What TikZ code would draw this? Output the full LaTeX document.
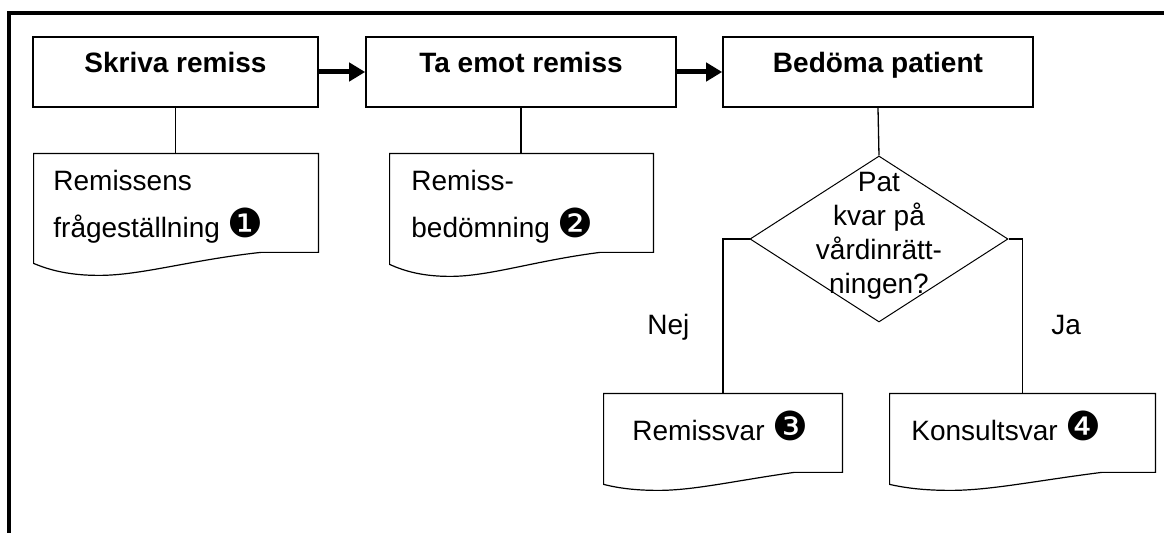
\documentclass[tikz,border=0pt]{standalone}
\usepackage{fontspec}
\setmainfont{Liberation Sans}
\newfontfamily\dv{DejaVu Sans}
\usetikzlibrary{arrows.meta,calc,shapes.geometric}
\newcommand\cnum[1]{{\dv\fontsize{20}{20}\selectfont #1}}
\tikzset{
 procbox/.style={draw, line width=0.8pt, minimum height=35pt, inner sep=0pt,
   font=\bfseries\fontsize{14}{17}\selectfont, text height=8pt, text depth=7pt},
 docnode/.style={inner sep=0pt},
 docline/.style={line width=0.6pt, line join=miter},
 conn/.style={line width=0.65pt},
 flowarrow/.style={line width=2.5pt, -{Triangle[length=8pt,width=9pt]}},
 txt/.style={inner sep=0pt, font=\fontsize{14}{23.5}\selectfont, align=left},
 frametop/.style={line width=1.6pt},
 frameleft/.style={line width=2pt},
 decision/.style={diamond, draw, line width=0.5pt, minimum width=129pt, minimum height=83pt, inner sep=0pt},
}
\newcommand\docwave[4]{% node, width(px), rise(px), dip(px)
 \draw[docline] (#1.north west) -- (#1.north east) -- ($(#1.south east)+(0,-#3)$)
   -- ($(#1.south west)+(0.8*#2,-#3)$)
   .. controls ($(#1.south west)+(0.55*#2,-0.3*#3)$) and ($(#1.south west)+(0.38*#2,#4)$) .. ($(#1.south west)+(0.23*#2,#4)$)
   .. controls ($(#1.south west)+(0.13*#2,#4)$) and ($(#1.south west)+(0.06*#2,0.6*#4)$) .. (#1.south west) -- cycle;}
\begin{document}
\begin{tikzpicture}[x=0.5pt,y=-0.5pt]
\useasboundingbox (0,0) rectangle (1164,533);
% frame
\coordinate (fa) at (7,13);
\coordinate (fb) at (1164,13);
\coordinate (fc) at (9,12);
\coordinate (fd) at (9,533);
\draw[frametop] (fa) -- (fb);
\draw[frameleft] (fc) -- (fd);
% process boxes
\node[procbox, minimum width=142.5pt] (b1) at (175.5,72) {Skriva remiss};
\node[procbox, minimum width=155pt] (b2) at (521,72) {Ta emot remiss};
\node[procbox, minimum width=155pt] (b3) at (878,72) {Bedöma patient};
\draw[flowarrow] (b1.east) -- (b2.west);
\draw[flowarrow] (b2.east) -- (b3.west);
% documents
\node[docnode, minimum width=142pt, minimum height=54.5pt] (d1) at (176,208.5) {};
\docwave{d1}{284}{11}{12}
\node[docnode, minimum width=131.5pt, minimum height=55pt] (d2) at (521.5,209) {};
\docwave{d2}{263}{12}{12}
\node[docnode, minimum width=119pt, minimum height=45pt] (d3) at (723,439) {};
\docwave{d3}{238}{12}{6}
\node[docnode, minimum width=132.5pt, minimum height=45pt] (d4) at (1022.5,439) {};
\docwave{d4}{265}{12}{6}
% document texts (base anchor = baseline of the last line)
\node[txt, anchor=base west] (t1) at (53,238) {Remissens\\frågeställning \cnum{❶}};
\node[txt, anchor=base west] (t2) at (411,238) {Remiss-\\bedömning \cnum{❷}};
\node[txt, anchor=base west] (t3) at (632,441) {Remissvar \cnum{❸}};
\node[txt, anchor=base west] (t4) at (911,441) {Konsultsvar \cnum{❹}};
% decision
\node[decision] (q) at (879,239) {};
\node[txt, align=center, font=\fontsize{14}{17}\selectfont] (qt) at (879,236) {Pat\\kvar på\\vårdinrätt-\\ningen?};
% connectors
\draw[conn] (b1.south) -- (b1.south |- d1.north);
\draw[conn] (b2.south) -- (b2.south |- d2.north);
\draw[conn] (b3.south) -- (q.north);
\draw[conn] (q.west) -| (d3.north);
\draw[conn] (q.east) -| (d4.north);
% branch labels
\node[txt, anchor=base west] (nej) at (647,335) {Nej};
\node[txt, anchor=base west] (ja) at (1051,335) {Ja};
\end{tikzpicture}
\end{document}
